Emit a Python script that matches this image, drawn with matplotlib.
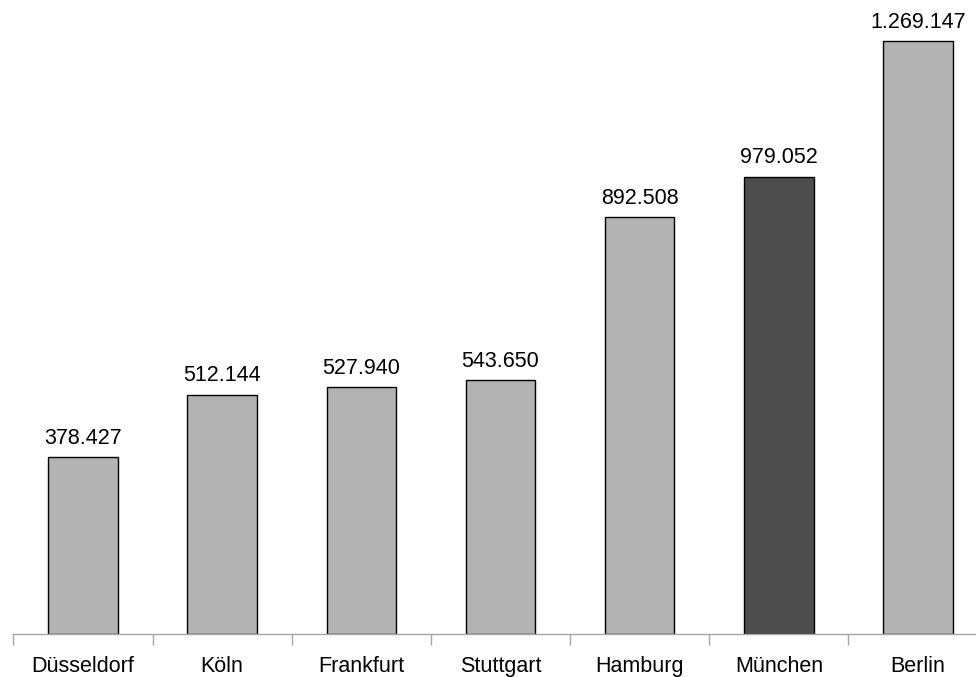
import matplotlib.pyplot as plt
import numpy as np

plt.rcParams['font.family'] = ['Liberation Sans', 'DejaVu Sans']

cities = ['Düsseldorf', 'Köln', 'Frankfurt', 'Stuttgart', 'Hamburg', 'München', 'Berlin']
values = [378427, 512144, 527940, 543650, 892508, 979052, 1269147]
labels = ['378.427', '512.144', '527.940', '543.650', '892.508', '979.052', '1.269.147']
highlight = 'München'

W, H = 976, 677
fig = plt.figure(figsize=(W / 100, H / 100), dpi=100)
# axes spans from first category boundary to last (right edge runs past the image)
x0, x1 = 13.4, 987.6
base_y, top_y = 634, 41
ax = fig.add_axes([x0 / W, (H - base_y) / H, (x1 - x0) / W, base_y / H])

x = np.arange(len(cities))
colors = ['#4d4d4d' if c == highlight else '#b3b3b3' for c in cities]
ax.bar(x, values, width=0.5, color=colors, edgecolor='black', linewidth=1.0, zorder=2)

ymax = values[-1] * base_y / (base_y - top_y)
ax.set_xlim(-0.5, len(cities) - 0.5)
ax.set_ylim(0, ymax)

for xi, v, lab in zip(x, values, labels):
    ax.annotate(lab, (xi, v), xytext=(0, 6), textcoords='offset points',
                ha='center', va='bottom', fontsize=15.5, color='black', clip_on=False)

for s in ['top', 'right', 'left']:
    ax.spines[s].set_visible(False)
ax.spines['bottom'].set_color('#a6a6a6')
ax.spines['bottom'].set_linewidth(1.0)
ax.set_yticks([])

ax.set_xticks(x)
ax.set_xticklabels(cities, fontsize=15.5)
ax.tick_params(axis='x', which='major', length=0, pad=15.5)
ax.set_xticks(np.arange(len(cities) + 1) - 0.5, minor=True)
ax.tick_params(axis='x', which='minor', length=8, width=1.0, color='#a6a6a6', direction='out')

fig.savefig('out.png', dpi=100)
